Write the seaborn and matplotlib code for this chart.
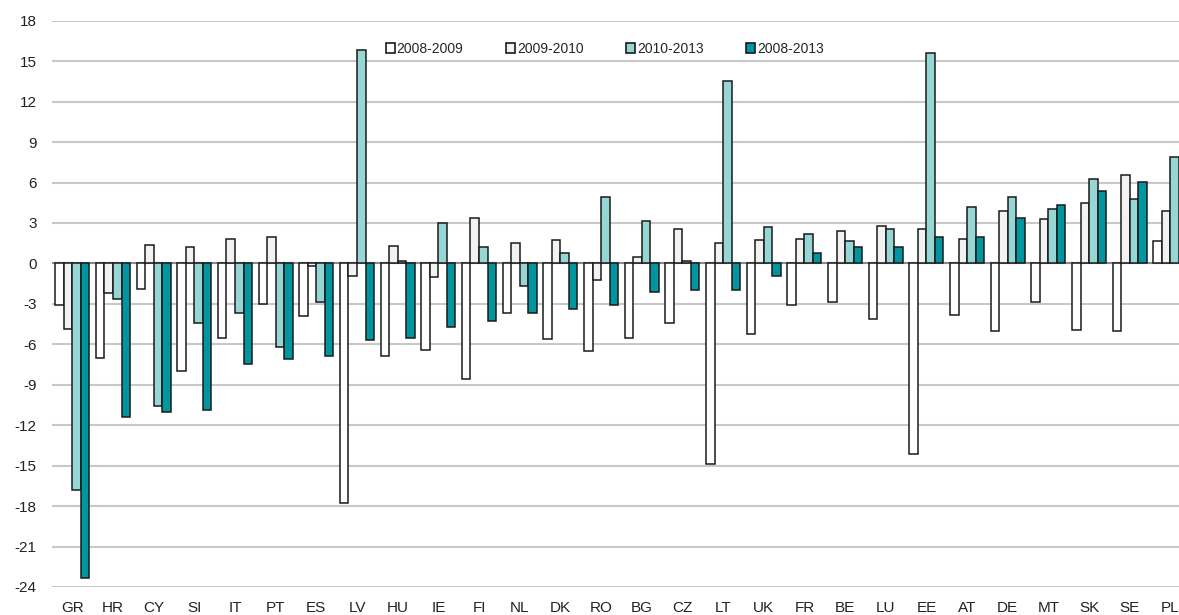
import numpy as np
import pandas as pd
import matplotlib
matplotlib.use("Agg")
import matplotlib.pyplot as plt
import seaborn as sns
from matplotlib.patches import Patch

countries = ["GR", "HR", "CY", "SI", "IT", "PT", "ES", "LV", "HU", "IE", "FI", "NL", "DK", "RO",
             "BG", "CZ", "LT", "UK", "FR", "BE", "LU", "EE", "AT", "DE", "MT", "SK", "SE", "PL"]
periods = ["2008-2009", "2009-2010", "2010-2013", "2008-2013"]

v_2008_2009 = [-3.1, -7.0, -1.9, -8.0, -5.5, -3.0, -3.9, -17.8, -6.85, -6.4, -8.6, -3.7, -5.6, -6.5,
               -5.5, -4.45, -14.85, -5.2, -3.1, -2.85, -4.15, -14.1, -3.85, -5.05, -2.85, -4.95, -5.05, 1.65]
v_2009_2010 = [-4.9, -2.2, 1.35, 1.2, 1.8, 1.95, -0.2, -0.95, 1.3, -1.0, 3.4, 1.5, 1.7, -1.2,
               0.5, 2.55, 1.5, 1.7, 1.8, 2.4, 2.8, 2.55, 1.8, 3.9, 3.3, 4.45, 6.55, 3.9]
v_2010_2013 = [-16.8, -2.65, -10.55, -4.45, -3.7, -6.2, -2.85, 15.85, 0.15, 3.0, 1.2, -1.65, 0.75, 4.9,
               3.15, 0.15, 13.5, 2.7, 2.2, 1.65, 2.55, 15.6, 4.15, 4.9, 4.0, 6.25, 4.75, 7.9]
v_2008_2013 = [-23.3, -11.4, -11.0, -10.85, -7.45, -7.1, -6.9, -5.65, -5.5, -4.75, -4.3, -3.7, -3.4, -3.1,
               -2.1, -1.95, -1.95, -0.9, 0.75, 1.2, 1.2, 1.95, 1.95, 3.4, 4.3, 5.35, 6.05, np.nan]

colors = ["#ffffff", "#f2f2f2", "#96d7d5", "#00959f"]

rows = []
for p, vals in zip(periods, [v_2008_2009, v_2009_2010, v_2010_2013, v_2008_2013]):
    for c, v in zip(countries, vals):
        if not np.isnan(v):
            rows.append({"country": c, "period": p, "value": v})
df = pd.DataFrame(rows)

sns.set_theme(style="white")
plt.rcParams["font.family"] = ["Liberation Sans", "DejaVu Sans"]
plt.rcParams["axes.unicode_minus"] = False

fig = plt.figure(figsize=(11.79, 6.15), dpi=100)
ax = fig.add_axes([52 / 1179, (615 - 587) / 615, (1179 - 52) / 1179, (587 - 20.7) / 615])

sns.barplot(data=df, x="country", y="value", hue="period", order=countries, hue_order=periods,
            palette=colors, saturation=1, edgecolor="#1a1a1a", linewidth=1.1, width=0.84, gap=0,
            errorbar=None, ax=ax, legend=False, zorder=3)

ax.set_ylim(-24, 18)
ax.set_yticks(np.arange(-24, 19, 3))
ax.set_xlim(-0.5, -0.5 + (1179 - 52) / 40.67)
ax.yaxis.grid(True, color="#c8c8c8", linewidth=1.5, zorder=0)
ax.set_axisbelow(True)
ax.axhline(0, color="#8a8a8a", linewidth=1.5, zorder=2)
for s in ax.spines.values():
    s.set_visible(False)
ax.tick_params(axis="both", length=0, labelsize=11, colors="#222222")
ax.tick_params(axis="y", pad=11)
ax.tick_params(axis="x", pad=10)
ax.set_xlabel("")
ax.set_ylabel("")

handles = [Patch(facecolor=c, edgecolor="#1a1a1a", linewidth=1.2) for c in colors]
fig.legend(handles, periods, loc="center left", bbox_to_anchor=(380 / 1179, 1 - 49 / 615),
           ncol=4, frameon=False, fontsize=10, handlelength=0.65, handleheight=0.65,
           handletextpad=0.15, columnspacing=3.05, borderaxespad=0)

fig.savefig("out.png", dpi=100)
